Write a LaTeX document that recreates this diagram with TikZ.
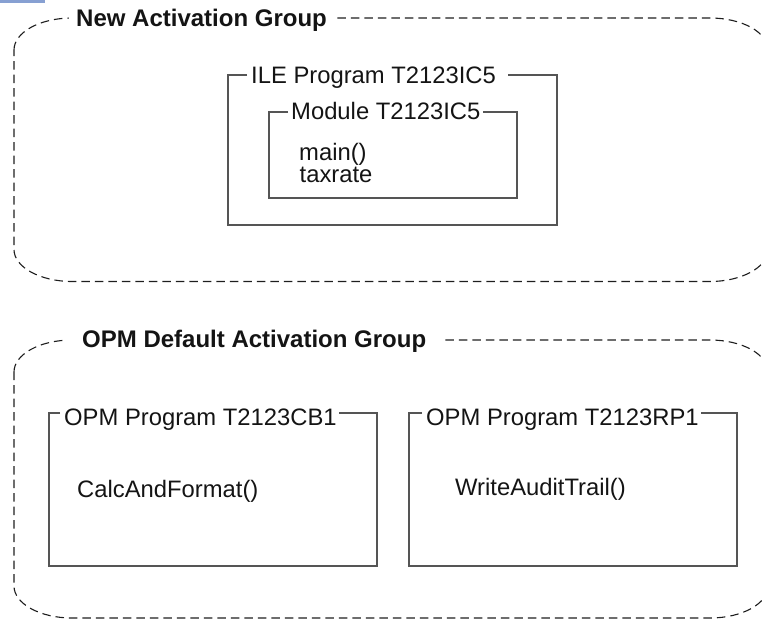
\documentclass[tikz,border=0pt]{standalone}
\usepackage{fontspec}
\setmainfont{Liberation Sans}
\definecolor{boxgray}{RGB}{85,85,85}
\definecolor{dashink}{RGB}{30,30,30}
\definecolor{linkblue}{RGB}{135,160,210}
\tikzset{
  grp/.style={draw=dashink, line width=1.1pt, dash pattern=on 8.5pt off 5pt},
  boxline/.style={draw=boxgray, line width=1.3pt},
  grptitle/.style={font=\bfseries\fontsize{24}{21}\selectfont, fill=white, inner ysep=2pt, anchor=base west, text=black!92},
  lbl/.style={font=\fontsize{23.8}{21}\selectfont, inner sep=0pt, anchor=base west, text=black!92}
}
\begin{document}
\begin{tikzpicture}[x=1pt, y=-1pt]
\useasboundingbox (0,0) rectangle (762,621);
% remnant link underline
\fill[linkblue] (0,0) rectangle (45,2.5);
% New Activation Group
\draw[grp] (14,50) .. controls (14,32.3) and (40,18) .. (72,18) -- (710,18)
  .. controls (742,18) and (768,32.3) .. (768,50) -- (768,249.5)
  .. controls (768,267) and (742,281.5) .. (710,281.5) -- (72,281.5)
  .. controls (40,281.5) and (14,267) .. (14,249.5) -- cycle;
\node[grptitle, inner xsep=7pt] (nag) at (69,26) {New Activation Group};
% ILE program box
\draw[boxline] (247,75) -- (228,75) -- (228,225) -- (557,225) -- (557,75) -- (508,75);
\node[lbl] (ile) at (251,83) {ILE Program T2123IC5};
% Module box
\draw[boxline] (288,112) -- (269,112) -- (269,198) -- (517,198) -- (517,112) -- (483,112);
\node[lbl] (mod) at (291,119) {Module T2123IC5};
\node[lbl] (mainf) at (299,160) {main()};
\node[lbl] (tax) at (299.5,182) {taxrate};
% OPM Default Activation Group
\draw[grp] (14,372) .. controls (14,354.3) and (40,340) .. (72,340) -- (710,340)
  .. controls (742,340) and (768,354.3) .. (768,372) -- (768,586)
  .. controls (768,603.7) and (742,618) .. (710,618) -- (72,618)
  .. controls (40,618) and (14,603.7) .. (14,586) -- cycle;
\node[grptitle, inner xsep=15pt] (odag) at (67,347) {OPM Default Activation Group};
% OPM program CB1
\draw[boxline] (60,413) -- (49,413) -- (49,566) -- (377,566) -- (377,413) -- (339,413);
\node[lbl] (cb1) at (64,425) {OPM Program T2123CB1};
\node[lbl] (calc) at (77,497) {CalcAndFormat()};
% OPM program RP1
\draw[boxline] (422,413) -- (409,413) -- (409,566) -- (737,566) -- (737,413) -- (701,413);
\node[lbl] (rp1) at (426,425) {OPM Program T2123RP1};
\node[lbl] (wat) at (455,495) {WriteAuditTrail()};
\end{tikzpicture}
\end{document}
